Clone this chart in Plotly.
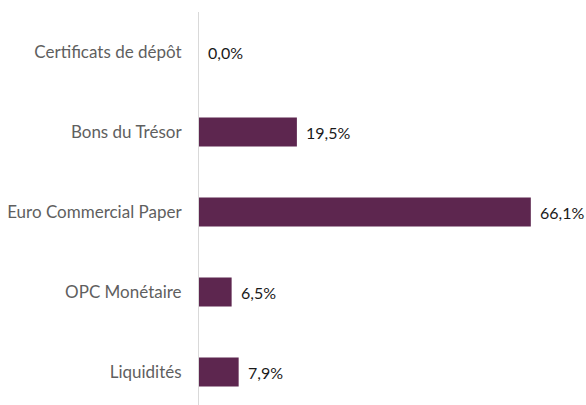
import plotly.graph_objects as go

# Répartition du portefeuille monétaire
categories = ["Certificats de dépôt", "Bons du Trésor", "Euro Commercial Paper",
              "OPC Monétaire", "Liquidités"]
values = [0.0, 19.5, 66.1, 6.5, 7.9]

bar_color = "#5D264F"
font_family = "Lato, 'Open Sans', sans-serif"

idx = list(range(len(categories)))

fig = go.Figure(
    go.Bar(
        x=values,
        y=idx,
        orientation="h",
        marker=dict(color=bar_color, line=dict(width=0)),
        width=0.36,
        hoverinfo="skip",
    )
)

for i, v in zip(idx, values):
    fig.add_annotation(
        x=v, y=i, xref="x", yref="y",
        text=f"{v:.1f}%".replace(".", ","),
        showarrow=False, xanchor="left", yanchor="middle",
        xshift=7,
        font=dict(family=font_family, size=16, color="#1a1a1a"),
    )

fig.update_layout(
    width=586, height=405,
    margin=dict(l=199, r=0, t=12, b=0),
    paper_bgcolor="white", plot_bgcolor="white",
    showlegend=False,
    font=dict(family=font_family, size=16, color="#595959"),
    xaxis=dict(range=[0, 387 / 5.02], visible=False, fixedrange=True),
    yaxis=dict(
        range=[4.4125, -0.5],
        tickmode="array", tickvals=idx, ticktext=categories,
        showgrid=False, zeroline=False,
        showline=True, linecolor="#D9D9D9", linewidth=1,
        ticks="", ticklabelstandoff=13,
        tickfont=dict(family=font_family, size=17, color="#5f5f5f"),
    ),
)

fig.write_html("out.html")
